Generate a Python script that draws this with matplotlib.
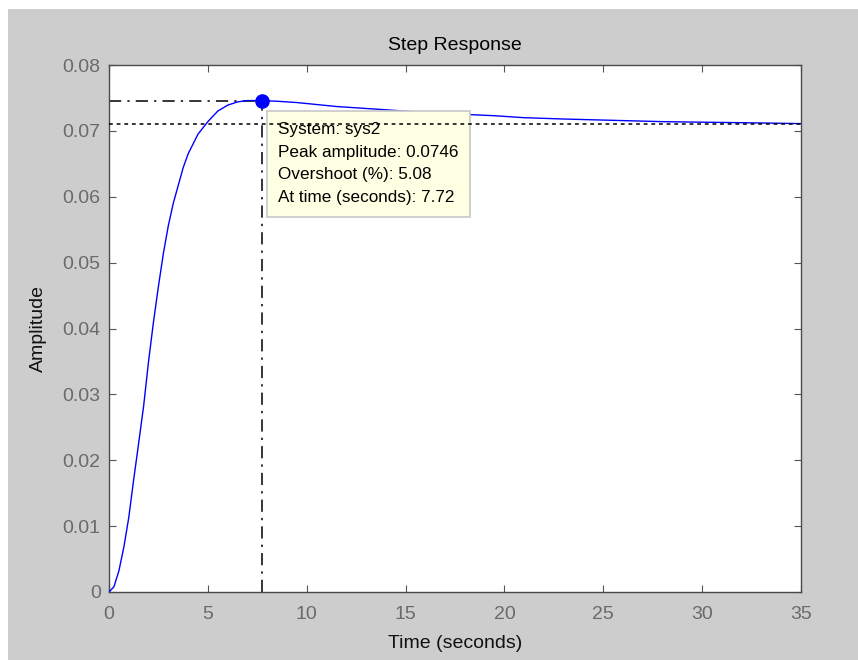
import matplotlib.pyplot as plt
import matplotlib.patches as mpatches

plt.rcParams['font.family'] = ['Liberation Sans', 'DejaVu Sans']

# step response
t = [0, 0.25, 0.5, 0.75, 1.0, 1.25, 1.5, 1.75, 2.0, 2.25, 2.5, 2.75, 3.0, 3.25,
     3.5, 3.75, 4.0, 4.5, 5.0, 5.5, 6.0, 6.5, 7.0, 7.72, 8.5, 9.5, 10.5, 11.5,
     13, 14.5, 16, 18, 19.5, 21, 23, 25.5, 28, 30.5, 33, 35]
amp = [0, 0.0008, 0.0032, 0.0068, 0.0113, 0.0171, 0.0226, 0.0282, 0.0350, 0.0410,
       0.0464, 0.0514, 0.0556, 0.0590, 0.0617, 0.0644, 0.0665, 0.0695, 0.0714,
       0.0730, 0.0739, 0.0744, 0.0746, 0.0746, 0.0745, 0.0743, 0.0740, 0.0737,
       0.0734, 0.0731, 0.0728, 0.0725, 0.0723, 0.0720, 0.0718, 0.0716, 0.0714,
       0.0713, 0.0712, 0.0711]

peak_t = 7.72
peak_amp = 0.0746
final_amp = 0.0710
overshoot = 5.08

xticks = [0, 5, 10, 15, 20, 25, 30, 35]
yticks = [0, 0.01, 0.02, 0.03, 0.04, 0.05, 0.06, 0.07, 0.08]
ylabels = ['0', '0.01', '0.02', '0.03', '0.04', '0.05', '0.06', '0.07', '0.08']

fig = plt.figure(figsize=(8.58, 6.6), dpi=100)
fig.patch.set_facecolor('#cdcdcd')
# white strips on top and left like the screenshot
fig.add_artist(mpatches.Rectangle((0, 1 - 9 / 660), 1, 9 / 660, transform=fig.transFigure,
                                  facecolor='white', edgecolor='none'))
fig.add_artist(mpatches.Rectangle((0, 0), 8 / 858, 1, transform=fig.transFigure,
                                  facecolor='white', edgecolor='none'))

ax = fig.add_axes([109 / 858, 1 - 592 / 660, (801 - 109) / 858, (592 - 65) / 660])
ax.set_facecolor('white')

ax.plot(t, amp, color='#0000ff', lw=1.0, zorder=3)

# characteristic lines
ax.plot([0, peak_t], [peak_amp, peak_amp], color='black', lw=1.1,
        linestyle=(0, (8, 4, 1.5, 4)), zorder=2)
ax.plot([peak_t, peak_t], [0, peak_amp], color='black', lw=1.1,
        linestyle=(0, (8, 4, 1.5, 4)), zorder=2)
ax.plot([0, 35], [final_amp, final_amp], color='black', lw=1.1,
        linestyle=(0, (2.5, 2.5)), zorder=6)
ax.plot([peak_t], [peak_amp], 'o', color='#0000ff', ms=9.5, zorder=7)

# data tip
tip = '\n'.join(['System: sys2',
                 'Peak amplitude: %.4f' % peak_amp,
                 'Overshoot (%%): %.2f' % overshoot,
                 'At time (seconds): %.2f' % peak_t])
ax.text(8.55, 0.0714, tip, fontsize=12.3, color='black', va='top', ha='left',
        linespacing=1.66, zorder=5,
        bbox=dict(boxstyle='square,pad=0.65', facecolor='#ffffe4',
                  edgecolor='#c8c8c8', lw=1.2))

ax.set_xlim(0, 35)
ax.set_ylim(0, 0.08)
ax.set_xticks(xticks)
ax.set_yticks(yticks)
ax.set_yticklabels(ylabels)
ax.tick_params(direction='in', length=5, width=0.8, colors='#555555',
               labelcolor='#6a6a6a', labelsize=14, top=True, right=True)
ax.tick_params(axis='x', pad=10)
ax.tick_params(axis='y', pad=6)
for s in ax.spines.values():
    s.set_color('#4a4a4a')
    s.set_linewidth(1.0)

ax.set_title('Step Response', fontsize=14, color='black', pad=11)
ax.set_xlabel('Time (seconds)', fontsize=14, color='#111111', labelpad=9)
ax.set_ylabel('Amplitude', fontsize=14, color='#111111', labelpad=11)

fig.savefig('out.png', dpi=100, facecolor=fig.get_facecolor())
